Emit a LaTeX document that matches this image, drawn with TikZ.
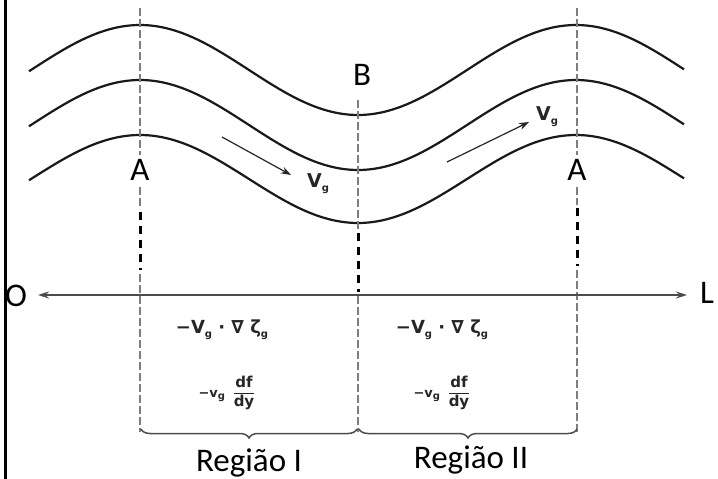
\documentclass[tikz,border=0pt]{standalone}
\usepackage{fontspec}
\setmainfont{Carlito}
\newfontfamily\symf{DejaVu Sans}
\usetikzlibrary{arrows.meta,decorations.pathreplacing}
\newcommand{\mysubg}[1]{\raisebox{-0.4ex}{\fontsize{10}{10}\selectfont #1}}
\definecolor{ink}{HTML}{262626}
\definecolor{dgray}{HTML}{7E7E7E}
\tikzset{
  wave/.style={line width=2.2pt, draw=black!90},
  guide/.style={dgray, line width=2pt, dash pattern=on 8pt off 3pt},
  guidebold/.style={black, line width=3pt, dash pattern=on 8pt off 6pt},
  lbl/.style={font=\fontsize{33}{33}\selectfont, text=black, inner sep=0pt},
  mth/.style={text=ink, inner sep=0pt},
  brc/.style={decorate, decoration={brace, mirror, amplitude=9pt}, line width=1.5pt, black!70},
  vel/.style={-{Stealth[length=10pt,width=7pt]}, line width=1.2pt, ink}
}
\begin{document}
\begin{tikzpicture}[x=1pt,y=-1pt]
\useasboundingbox (0,0) rectangle (718,479);
\fill[white] (0,0) rectangle (718,479);
\draw[line width=3pt] (5,0) -- (5,479);
% waves
\draw[wave] plot[domain=29:684, samples=150] (\x, {70-45*cos((\x-140)/436*360)});
\draw[wave] plot[domain=29:684, samples=150] (\x, {125-45*cos((\x-140)/436*360)});
\draw[wave] plot[domain=29:684, samples=150] (\x, {179-44*cos((\x-140)/436*360)});
% labels
\node[lbl] (A1) at (140,170) {A};
\node[lbl] (B) at (362,75) {B};
\node[lbl] (A2) at (577,170) {A};
\node[lbl] (O) at (16,296) {O};
\node[lbl] (L) at (707,293) {L};
% guides
\draw[guide] (140,8) -- (140,155);
\draw[guide] (140,187) -- (140,209);
\draw[guidebold] (140,212) -- (140,270);
\draw[guide] (140,274) -- (140,432);
\draw[guide] (358,100) -- (358,230);
\draw[guidebold] (358,233) -- (358,292);
\draw[guide] (358,296) -- (358,432);
\draw[guide] (577,8) -- (577,155);
\draw[guide] (577,187) -- (577,205);
\draw[guidebold] (577,208) -- (577,266);
\draw[guide] (577,270) -- (577,432);
% axis
\coordinate (ax0) at (38,295);
\coordinate (ax1) at (687,295);
\draw[{Stealth[length=11pt,width=7pt]}-{Stealth[length=11pt,width=7pt]}, line width=1.5pt, black!70] (ax0) -- (ax1);
% velocity arrows
\coordinate (v1s) at (222,137); \coordinate (v1e) at (291,175);
\draw[vel] (v1s) -- (v1e);
\node[mth, font=\symf\bfseries\fontsize{19}{19}\selectfont] (vg1) at (318,184) {V\mysubg{g}};
\coordinate (v2s) at (447,162); \coordinate (v2e) at (529,122);
\draw[vel] (v2s) -- (v2e);
\node[mth, font=\symf\bfseries\fontsize{19}{19}\selectfont] (vg2) at (547,117) {V\mysubg{g}};
% formulas
\node[mth, font=\symf\bfseries\fontsize{18}{18}\selectfont] (f1) at (222,330) {−V\mysubg{g} · ∇ ζ\mysubg{g}};
\node[mth, font=\symf\bfseries\fontsize{18}{18}\selectfont] (f2) at (442,330) {−V\mysubg{g} · ∇ ζ\mysubg{g}};
\node[mth, font=\symf\bfseries\fontsize{15}{15}\selectfont] (g1) at (227,393) {{\fontsize{13}{13}\selectfont −v\mysubg{g}}\enspace$\displaystyle\frac{\mbox{\symf\bfseries df}}{\mbox{\symf\bfseries dy}}$};
\node[mth, font=\symf\bfseries\fontsize{15}{15}\selectfont] (g2) at (442,393) {{\fontsize{13}{13}\selectfont −v\mysubg{g}}\enspace$\displaystyle\frac{\mbox{\symf\bfseries df}}{\mbox{\symf\bfseries dy}}$};
% braces
\coordinate (b0) at (141,429); \coordinate (b1) at (357,429); \coordinate (b2) at (359,429); \coordinate (b3) at (577,429);
\draw[brc] (b0) -- (b1);
\draw[brc] (b2) -- (b3);
\node[lbl, anchor=base] (R1) at (249,471) {Região I};
\node[lbl, anchor=base] (R2) at (471,468) {Região II};
\end{tikzpicture}
\end{document}
